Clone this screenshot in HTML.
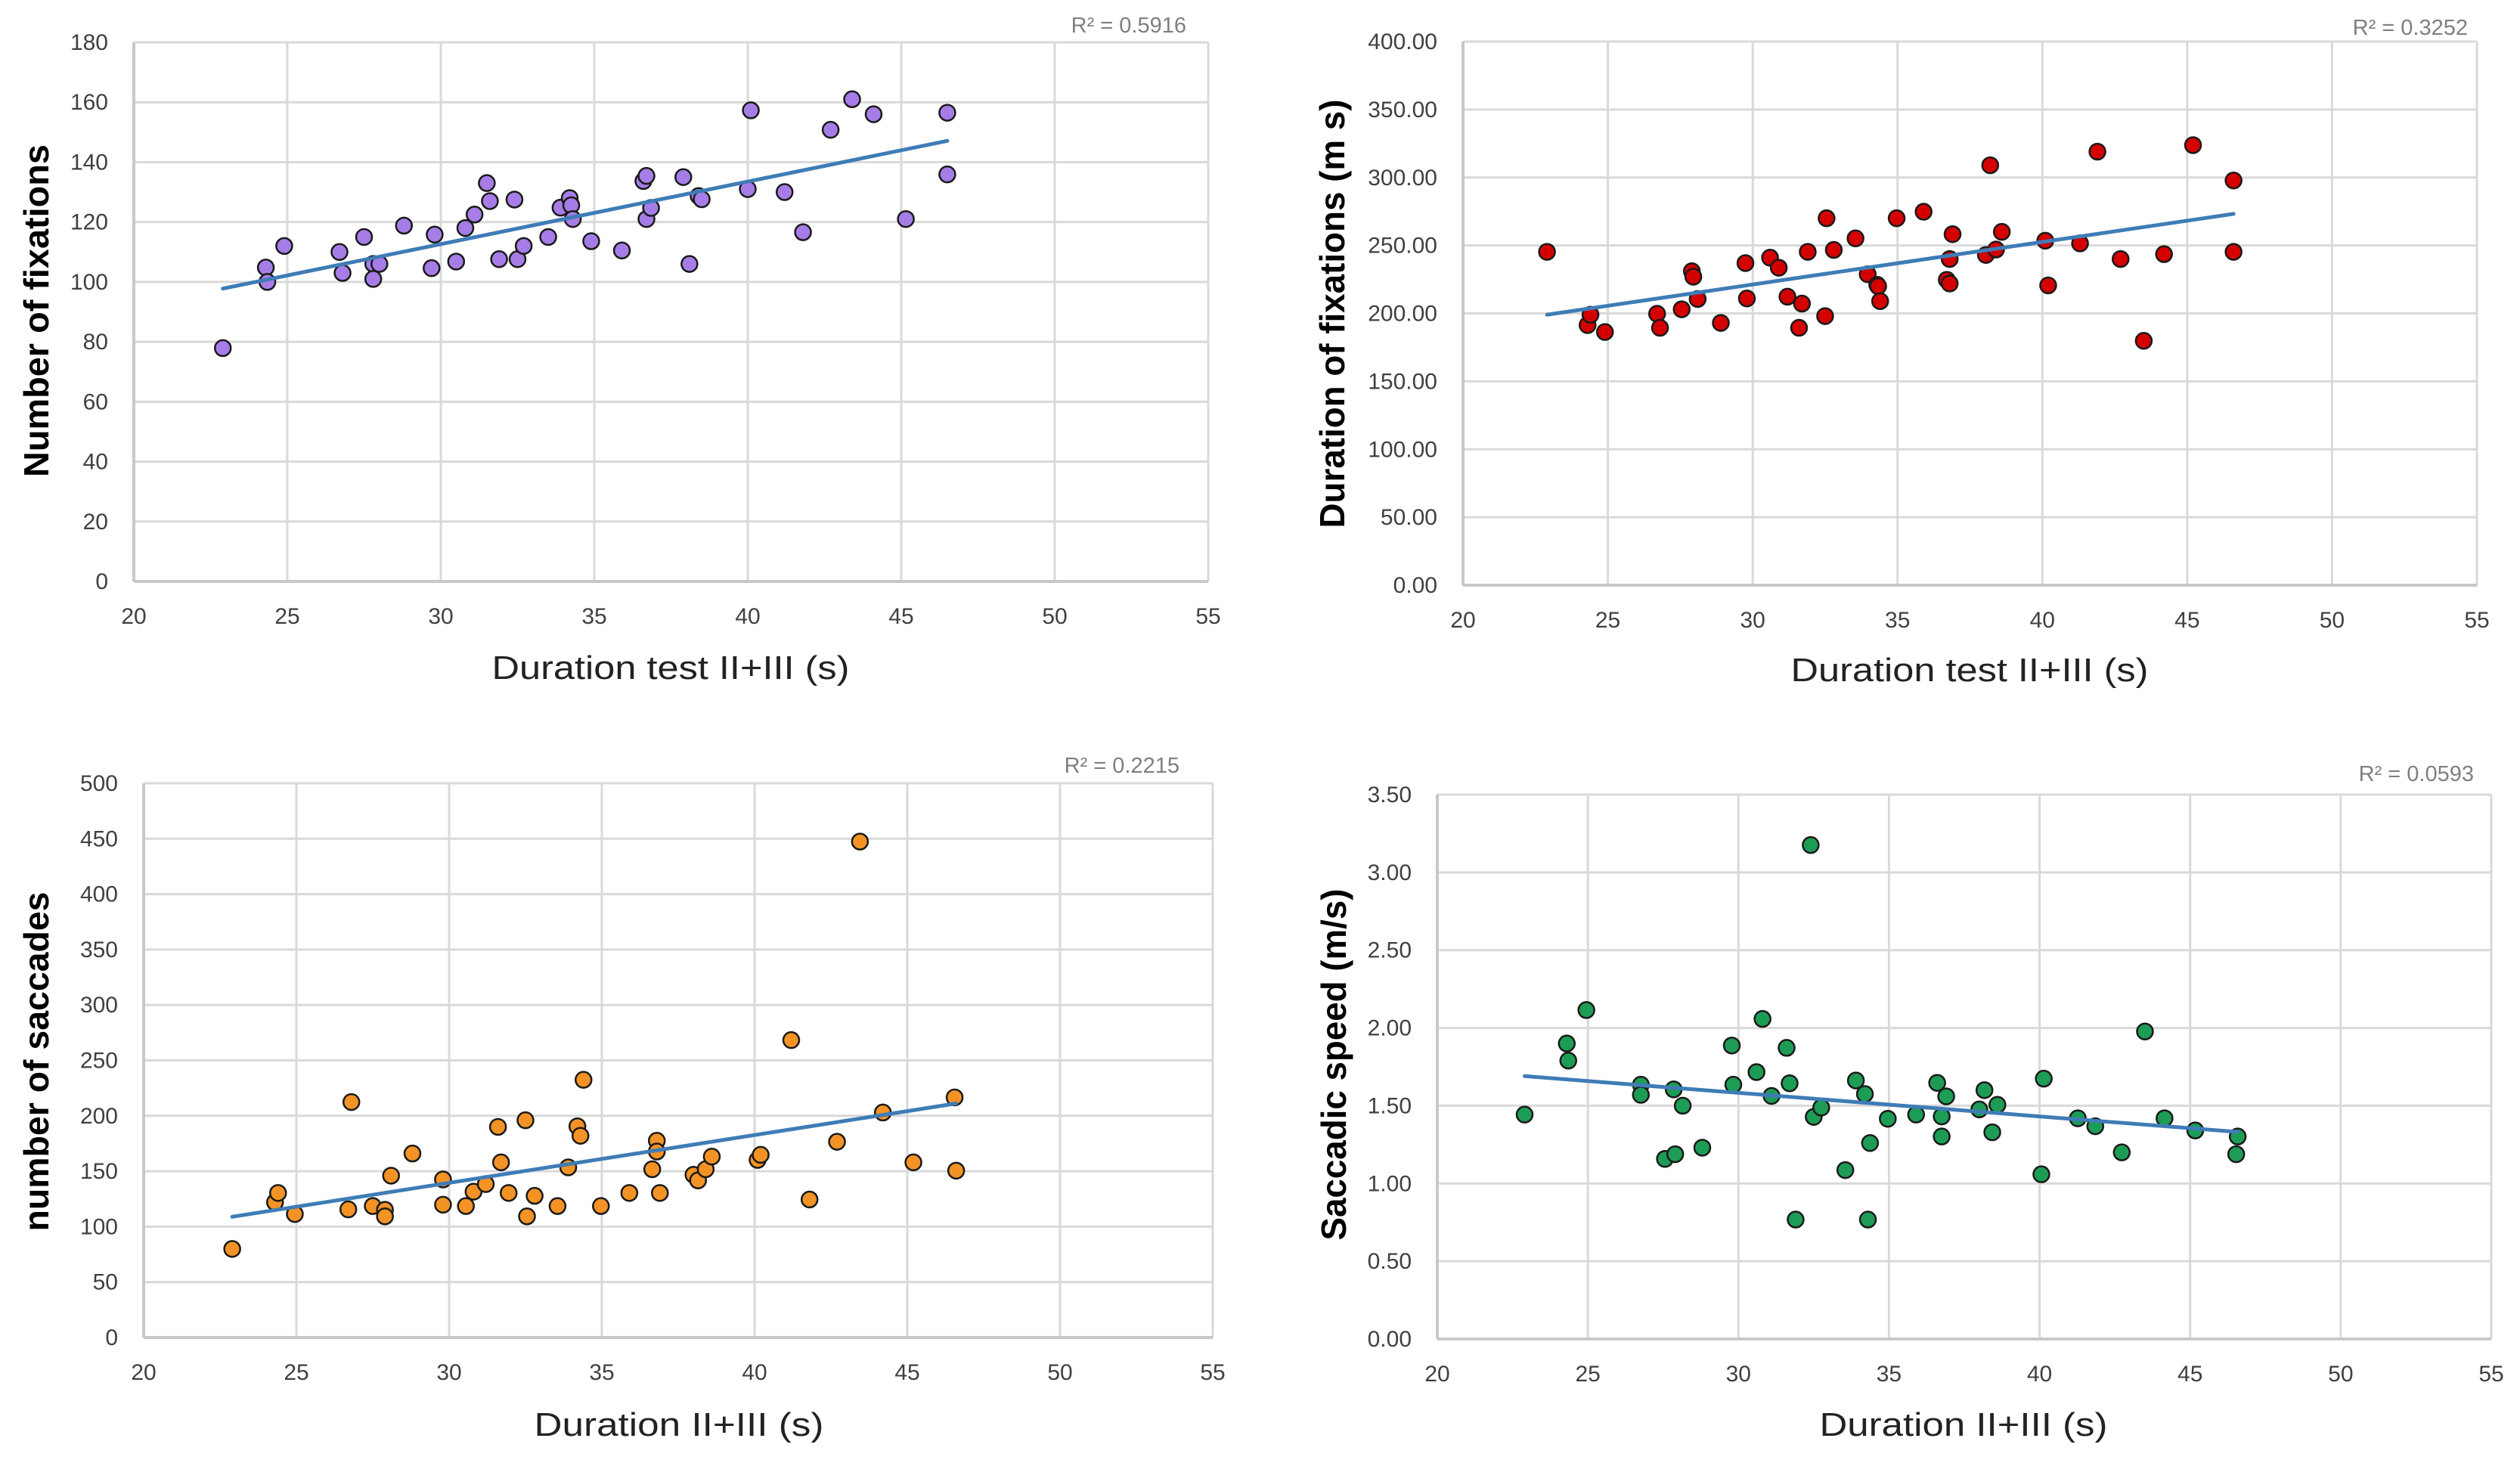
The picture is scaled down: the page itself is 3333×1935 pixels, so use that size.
<!DOCTYPE html>
<html><head><meta charset="utf-8"><style>
html,body{margin:0;padding:0;background:#fff;}
svg{display:block;font-family:"Liberation Sans",sans-serif;}
</style></head><body>
<svg id="fig" width="3333" height="1935" viewBox="0 0 3333 1935" xmlns="http://www.w3.org/2000/svg">
<rect width="3333" height="1935" fill="#fff"/>
</svg>
<script>
// ---- Chart 1: Number of fixations ----
const c1X=[22.9,24.3,24.35,24.9,26.7,26.8,27.5,27.8,27.8,28.0,28.8,29.7,29.8,30.5,30.8,31.1,31.5,31.6,31.9,32.4,32.5,32.7,33.5,33.9,34.2,34.25,34.3,34.9,35.9,36.6,36.7,36.7,36.85,37.9,38.1,38.4,38.5,40.0,40.1,41.2,41.8,42.7,43.4,44.1,45.15,46.5,46.5];
const c1Y=[77.9,104.8,100,112,110,103,115,106,101,106,118.8,104.6,115.8,106.8,118,122.5,133,127,107.6,127.5,107.6,112,115,124.8,128,125.6,121,113.6,110.5,133.7,135.4,121,124.7,135,106,128.7,127.6,131,157.3,130,116.6,150.8,161,156,121,156.5,135.9];
const c1YTicks=["0","20","40","60","80","100","120","140","160","180"];
// ---- Chart 2: Duration of fixations ----
const c2X=[22.9,24.3,24.4,24.9,26.7,26.8,27.55,27.9,27.95,28.1,28.9,29.75,29.8,30.6,30.9,31.2,31.7,31.6,31.9,32.5,32.55,32.8,33.55,33.97,34.3,34.33,34.4,34.97,35.9,36.7,36.8,36.8,36.9,38.05,38.2,38.4,38.6,40.1,40.2,41.3,41.9,42.7,43.5,44.2,45.2,46.6,46.6];
const c2Y=[245.3,191.4,199,186.3,199.7,189.4,203,231,227,210.6,193,237,211,241,233.6,212.3,207.2,189.4,245.3,198,270,246.7,255.2,228.8,221,220,209,270,274.8,224.7,222,240,258.3,243,309,247,260,253.5,220.6,251.5,319,240,179.8,243.6,323.8,297.8,245.3];
const c2YTicks=["0.00","50.00","100.00","150.00","200.00","250.00","300.00","350.00","400.00"];
// ---- Chart 3: Number of saccades ----
const c3X=[22.9,24.3,24.4,24.95,26.7,26.8,27.5,27.9,27.9,28.1,28.8,29.8,29.8,30.55,30.8,31.2,31.6,31.7,31.95,32.5,32.55,32.8,33.55,33.9,34.2,34.3,34.4,34.97,35.9,36.65,36.8,36.8,36.9,38.0,38.15,38.4,38.6,40.1,40.2,41.2,41.8,42.7,43.45,44.2,45.2,46.55,46.6];
const c3Y=[79.9,122,130.4,111.4,115.6,212.4,118.6,115.2,109.3,146,166,119.8,142.6,118.6,131.6,138.4,190,158,130.4,196,109.3,127.8,118.6,153.5,190.5,182,232.5,118.6,130.4,151.8,177.5,167.8,130.4,146.8,141.7,151.8,163.2,160.2,164.8,268.3,124.5,176.6,447.4,203,158,216.6,150.5];
const c3YTicks=["0","50","100","150","200","250","300","350","400","450","500"];
// ---- Chart 4: Saccadic speed ----
const c4X=[22.9,24.3,24.35,24.95,26.76,26.76,27.56,27.85,27.9,28.15,28.8,29.78,29.83,30.6,30.8,31.1,31.6,31.7,31.9,32.4,32.5,32.75,33.55,33.9,34.2,34.3,34.37,34.96,35.9,36.6,36.75,36.75,36.9,38.0,38.17,38.43,38.6,40.06,40.14,41.27,41.85,42.73,43.5,44.15,45.17,46.53,46.58];
const c4Y=[1.443,1.90,1.79,2.115,1.635,1.57,1.158,1.605,1.188,1.50,1.23,1.887,1.635,1.716,2.058,1.563,1.872,1.644,0.768,3.176,1.428,1.488,1.086,1.662,1.575,0.768,1.26,1.416,1.443,1.647,1.431,1.302,1.56,1.476,1.60,1.329,1.506,1.059,1.674,1.419,1.368,1.20,1.977,1.419,1.341,1.188,1.302];
const c4YTicks=["0.00","0.50","1.00","1.50","2.00","2.50","3.00","3.50"];
// shared x ticks
const xTicks=["20","25","30","35","40","45","50","55"];
const xTickVals=[20,25,30,35,40,45,50,55];

const NS="http://www.w3.org/2000/svg";
const svg=document.getElementById('fig');
function mk(tag,attrs,parent){const e=document.createElementNS(NS,tag);for(const k in attrs)e.setAttribute(k,attrs[k]);(parent||svg).appendChild(e);return e;}

function chart(id,box,xs,ys,yTicks,yMax,color,r2,r2pos,xt,xtPos,yt,ytPos){
  const g=mk('g',{});
  
  
  const sx=v=>box.L+(v-20)/35*(box.R-box.L);
  const sy=v=>box.B-v/yMax*(box.B-box.T);
  const n=yTicks.length;
  for(let i=0;i<n;i++){
    const v=yMax*i/(n-1), y=sy(v);
    const ln=mk('line',{x1:box.L,x2:box.R,y1:y,y2:y,stroke:'#d9d9d9','stroke-width':3},g);
    
    
    const t=mk('text',{x:box.L-34,y:y+10,'text-anchor':'end','font-size':30,fill:'#404040'},g);
    t.textContent=yTicks[i];
    
    
  }
  for(let i=0;i<xTickVals.length;i++){
    const x=sx(xTickVals[i]);
    const ln=mk('line',{x1:x,x2:x,y1:box.T,y2:box.B,stroke:'#d9d9d9','stroke-width':3},g);
    
    
    const t=mk('text',{x:x,y:box.B+56,'text-anchor':'middle','font-size':30,fill:'#404040'},g);
    t.textContent=xTicks[i];
    
    
  }
  const ax=mk('line',{x1:box.L,x2:box.R,y1:box.B,y2:box.B,stroke:'#c8c8c8','stroke-width':4},g);
  
  
  const ay=mk('line',{x1:box.L,x2:box.L,y1:box.T,y2:box.B,stroke:'#c8c8c8','stroke-width':4},g);
  
  
  const N=xs.length;let mx=0,my=0;for(let i=0;i<N;i++){mx+=xs[i];my+=ys[i];}mx/=N;my/=N;
  let sxy=0,sxx=0;for(let i=0;i<N;i++){sxy+=(xs[i]-mx)*(ys[i]-my);sxx+=(xs[i]-mx)**2;}
  const b=sxy/sxx,a=my-b*mx;const x0=Math.min(...xs),x1=Math.max(...xs);
  for(let i=0;i<N;i++){
    const c=mk('circle',{cx:sx(xs[i]),cy:sy(ys[i]),r:10.5,fill:color,stroke:'#1a1a1a','stroke-width':2.5},g);
    
    
  }
  const tl=mk('line',{x1:sx(x0),y1:sy(a+b*x0),x2:sx(x1),y2:sy(a+b*x1),stroke:'#3f7cb6','stroke-width':5,'stroke-linecap':'round'},g);
  
  
  const rt=mk('text',{x:r2pos[0],y:r2pos[1],'text-anchor':'end','font-size':29,fill:'#7f7f7f'},g);
  rt.textContent=r2;
  
  
  const xtt=mk('text',{x:xtPos[0],y:xtPos[1],'text-anchor':'middle','font-size':44,fill:'#222',textLength:xtPos[2],lengthAdjust:'spacingAndGlyphs'},g);
  xtt.textContent=xt;
  
  
  const ytt=mk('text',{x:0,y:0,'text-anchor':'middle','font-size':46,'font-weight':'bold',fill:'#000',textLength:ytPos[2],lengthAdjust:'spacingAndGlyphs',transform:`translate(${ytPos[0]},${ytPos[1]}) rotate(-90)`},g);
  ytt.textContent=yt;
  
  
}
chart('fixations-count-chart',{L:177,R:1598,T:56,B:769},c1X,c1Y,c1YTicks,180,'#a67de6','R² = 0.5916',[1569,43],'Duration test II+III (s)',[887,898,473],'Number of fixations',[64,411,440]);
chart('fixation-duration-chart',{L:1935,R:3276,T:55,B:774},c2X,c2Y,c2YTicks,400,'#d40000','R² = 0.3252',[3264,46],'Duration test II+III (s)',[2605,901,473],'Duration of fixations (m s)',[1778,415,567]);
chart('saccade-count-chart',{L:190,R:1604,T:1036,B:1769},c3X,c3Y,c3YTicks,500,'#f39325','R² = 0.2215',[1560,1022],'Duration II+III (s)',[898,1899,383],'number of saccades',[64,1404,449]);
chart('saccadic-speed-chart',{L:1901,R:3295,T:1051,B:1771},c4X,c4Y,c4YTicks,3.5,'#1d9c55','R² = 0.0593',[3272,1033],'Duration II+III (s)',[2597,1899,381],'Saccadic speed (m/s)',[1780,1408,465]);
</script>
</body></html>
